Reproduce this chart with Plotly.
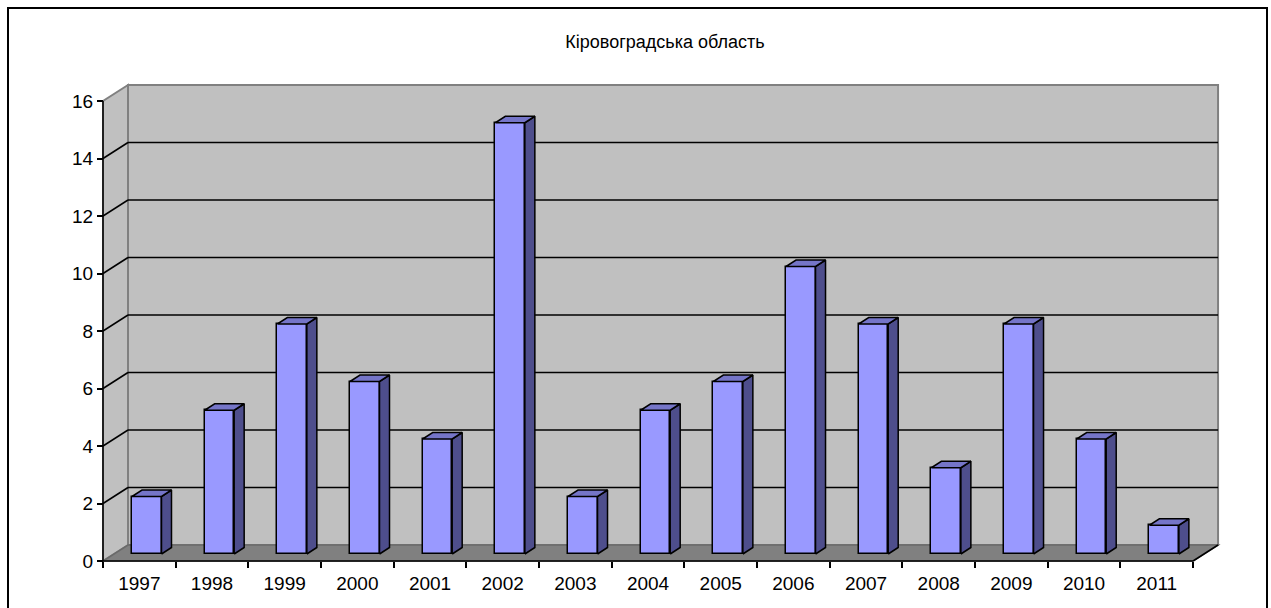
import plotly.graph_objects as go

# Annual counts, Kirovohrad oblast
years = ["1997", "1998", "1999", "2000", "2001", "2002", "2003", "2004",
         "2005", "2006", "2007", "2008", "2009", "2010", "2011"]
counts = [2, 5, 8, 6, 4, 15, 2, 5, 6, 10, 8, 3, 8, 4, 1]
y_ticks = [0, 2, 4, 6, 8, 10, 12, 14, 16]

W, H = 1271, 608
CW = 72.67        # pixels per category
UH = 28.75        # pixels per value unit
X0PX, Y0PX = 103, 561   # pixel location of the origin
PL, PR, PT, PB = 90, 1240, 75, 575  # plot area in pixels

xmin, xmax = (PL - X0PX) / CW, (PR - X0PX) / CW
ymin, ymax = -(PB - Y0PX) / UH, (Y0PX - PT) / UH

n = len(years)
ytop = y_ticks[-1]

# 3-D depth of the wall box and of the columns (in data units)
DX, DY = 25 / CW, 16 / UH
BOFF = 29 / CW          # front face left offset inside a category
BW = 29.5 / CW          # front face width
BASE = 7 / UH           # columns stand a little behind the front edge
BDX, BDY = 10 / CW, 6.5 / UH

WALL = "#C0C0C0"
FLOOR = "#808080"
EDGE = "#808080"

shapes = []


def poly(pts, fill, line_color, lw=1.5):
    path = "M " + " L ".join(f"{x},{y}" for x, y in pts) + " Z"
    shapes.append(dict(type="path", path=path, xref="x", yref="y",
                       fillcolor=fill, line=dict(color=line_color, width=lw),
                       layer="below"))


def seg(x1, y1, x2, y2, color="black", lw=1.5):
    shapes.append(dict(type="line", x0=x1, y0=y1, x1=x2, y1=y2, xref="x", yref="y",
                       line=dict(color=color, width=lw), layer="below"))


# walls and floor
poly([(DX, DY), (n + DX, DY), (n + DX, ytop + DY), (DX, ytop + DY)], WALL, EDGE, 2)
poly([(0, 0), (DX, DY), (DX, ytop + DY), (0, ytop)], WALL, EDGE, 2)
poly([(0, 0), (n, 0), (n + DX, DY), (DX, DY)], FLOOR, "#6a6a6a", 1.5)

# gridlines across side and back wall
for v in y_ticks[1:-1]:
    seg(0, v, DX, v + DY)
    seg(DX, v + DY, n + DX, v + DY)

# axis lines
seg(0, 0, 0, ytop)
seg(0, 0, n, 0)
seg(n, 0, n + DX, DY)

fig = go.Figure()

# front faces of the columns
fig.add_trace(go.Bar(
    x=[i + BOFF + BW / 2 for i in range(n)], y=counts, base=BASE, width=BW,
    marker=dict(color="#9999FF", line=dict(color="black", width=1.5)),
    hoverinfo="skip", showlegend=False))

# right side faces and top faces
sx, sy, tx, ty = [], [], [], []
for i, v in enumerate(counts):
    xl = i + BOFF
    xr = xl + BW
    top = BASE + v
    sx += [xr, xr + BDX, xr + BDX, xr, xr, None]
    sy += [BASE, BASE + BDY, top + BDY, top, BASE, None]
    tx += [xl, xl + BDX, xr + BDX, xr, xl, None]
    ty += [top, top + BDY, top + BDY, top, top, None]

fig.add_trace(go.Scatter(x=sx, y=sy, mode="lines", fill="toself",
                         fillcolor="#4E4E8C", line=dict(color="black", width=1.5),
                         hoverinfo="skip", showlegend=False))
fig.add_trace(go.Scatter(x=tx, y=ty, mode="lines", fill="toself",
                         fillcolor="#7575C8", line=dict(color="black", width=1.5),
                         hoverinfo="skip", showlegend=False))

# outer chart border
def px_to_paper_x(p):
    return (p - PL) / (PR - PL)


def px_to_paper_y(p):
    return (PB - p) / (PB - PT)


shapes.append(dict(type="rect", xref="paper", yref="paper",
                   x0=px_to_paper_x(8), x1=px_to_paper_x(1267),
                   y0=px_to_paper_y(620), y1=px_to_paper_y(8),
                   line=dict(color="black", width=2), fillcolor="rgba(0,0,0,0)",
                   layer="above"))

font_family = "Liberation Sans, Arial, sans-serif"

fig.update_layout(
    width=W, height=H,
    margin=dict(l=PL, r=W - PR, t=PT, b=H - PB, autoexpand=False),
    paper_bgcolor="white", plot_bgcolor="white",
    shapes=shapes,
    bargap=0,
    title=dict(text="Кіровоградська область", x=0.5, xanchor="center",
               xref="paper", y=1 - 42 / H, yanchor="middle", yref="container",
               font=dict(family=font_family, size=18, color="black")),
    xaxis=dict(range=[xmin, xmax], showgrid=False, zeroline=False, showline=False,
               tickmode="array", tickvals=[i + 0.5 for i in range(n)], ticktext=years,
               ticks="", tickfont=dict(family=font_family, size=19, color="black"),
               ticklabelstandoff=9,
               minor=dict(tickmode="array", tickvals=list(range(n + 1)), ticks="outside",
                          ticklen=6, tickwidth=1.5, tickcolor="black", showgrid=False),
               anchor="free", position=(0 - ymin) / (ymax - ymin), automargin=False),
    yaxis=dict(range=[ymin, ymax], showgrid=False, zeroline=False, showline=False,
               tickmode="array", tickvals=y_ticks, ticks="outside", ticklen=6,
               tickwidth=1.5, tickcolor="black",
               tickfont=dict(family=font_family, size=19, color="black"),
               anchor="free", position=(0 - xmin) / (xmax - xmin), automargin=False),
)

fig.write_html("out.html")
